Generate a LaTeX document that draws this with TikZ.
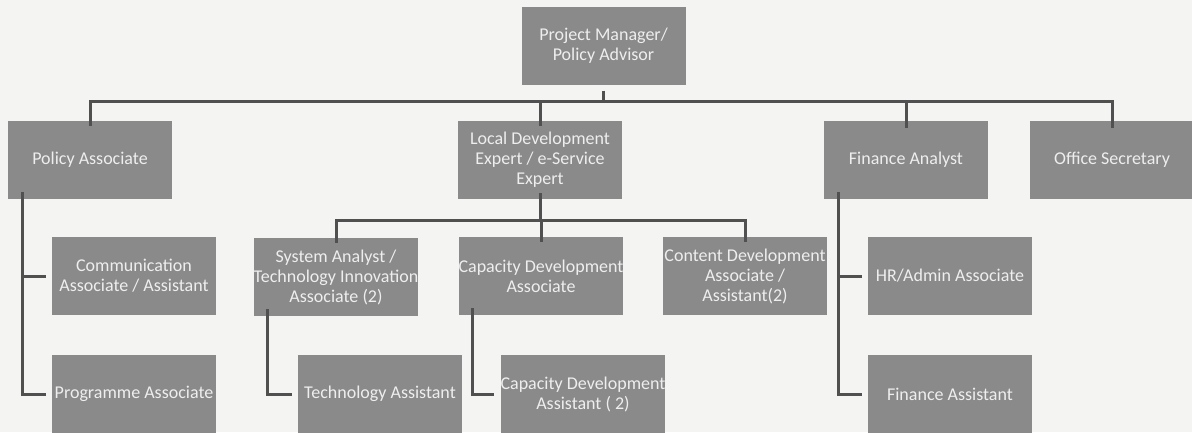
\documentclass[tikz,border=0pt]{standalone}
\usepackage{fontspec}
\setmainfont{Carlito}
\usetikzlibrary{positioning}
\definecolor{pagebg}{HTML}{F4F4F3}
\definecolor{boxfill}{HTML}{8A8A8A}
\definecolor{boxtext}{HTML}{EEEEEE}
\definecolor{linkcol}{HTML}{505050}
\begin{document}
\begin{tikzpicture}[x=1pt,y=-1pt,
  role/.style={rectangle, fill=boxfill, text=boxtext, minimum width=164pt,
    minimum height=78pt, inner sep=0pt, align=center,
    font=\fontsize{18}{20}\selectfont},
  link/.style={draw=linkcol, line width=3pt, line join=miter}]
  % page
  \fill[pagebg] (0,0) rectangle (1192,432);
  \useasboundingbox (0,0) rectangle (1192,432);
  \clip (0,0) rectangle (1192,432);

  % top level
  \node[role] (pm) at (603.5,45.5) {Project Manager/\\Policy Advisor};

  % first row
  \node[role] (pa) at (90,160) {Policy Associate};
  \node[role] (ld) at (540,160) {Local Development\\Expert / e-Service\\Expert};
  \node[role] (fa) at (906,160) {Finance Analyst};
  \node[role] (os) at (1112,160) {Office Secretary};

  % second row
  \node[role] (comm) at (134,276) {Communication\\Associate / Assistant};
  \node[role] (sa) at (336,277) {System Analyst /\\Technology Innovation\\Associate (2)};
  \node[role] (cda) at (541,276) {Capacity Development\\Associate};
  \node[role] (cd) at (745,276) {Content Development\\Associate /\\Assistant(2)};
  \node[role] (hr) at (950,276) {HR/Admin Associate};

  % third row
  \node[role] (prog) at (134,394) {Programme Associate};
  \node[role] (ta) at (380,394) {Technology Assistant};
  \node[role] (cdas) at (583,394) {Capacity Development\\Assistant ( 2)};
  \node[role] (fas) at (950,394) {Finance Assistant};

  % main bus under the project manager
  \coordinate (bus) at (0,101);
  \draw[link] ([yshift=-5pt]pa.north) -- (pa.north |- bus) -- (os.north |- bus)
              -- ([yshift=-7pt]os.north);
  \draw[link] ([yshift=-6pt]pm.south) -- (pm.south |- bus);
  \draw[link] (ld.north |- bus) -- ([yshift=-5pt]ld.north);
  \draw[link] (fa.north |- bus) -- ([yshift=-7pt]fa.north);

  % bus under local development expert
  \coordinate (sub) at (0,220);
  \draw[link] ([yshift=6pt]ld.south) -- (ld.south |- sub);
  \draw[link] ([yshift=-5pt]sa.north) -- (sa.north |- sub) -- (cd.north |- sub)
              -- ([yshift=-5pt]cd.north);
  \draw[link] (cda.north |- sub) -- ([yshift=-5pt]cda.north);

  % side branches
  \coordinate (paL) at ([xshift=15pt,yshift=7pt]pa.south west);
  \draw[link] (paL) |- ([xshift=-6pt]prog.west);
  \draw[link] (paL |- comm.west) -- ([xshift=-6pt]comm.west);

  \coordinate (saL) at ([xshift=14pt,yshift=7pt]sa.south west);
  \draw[link] (saL) |- ([xshift=-6pt]ta.west);

  \coordinate (cdaL) at ([xshift=14pt,yshift=7pt]cda.south west);
  \draw[link] (cdaL) |- ([xshift=-6pt]cdas.west);

  \coordinate (faL) at ([xshift=15pt,yshift=7pt]fa.south west);
  \draw[link] (faL) |- ([xshift=-6pt]fas.west);
  \draw[link] (faL |- hr.west) -- ([xshift=-6pt]hr.west);
\end{tikzpicture}
\end{document}
